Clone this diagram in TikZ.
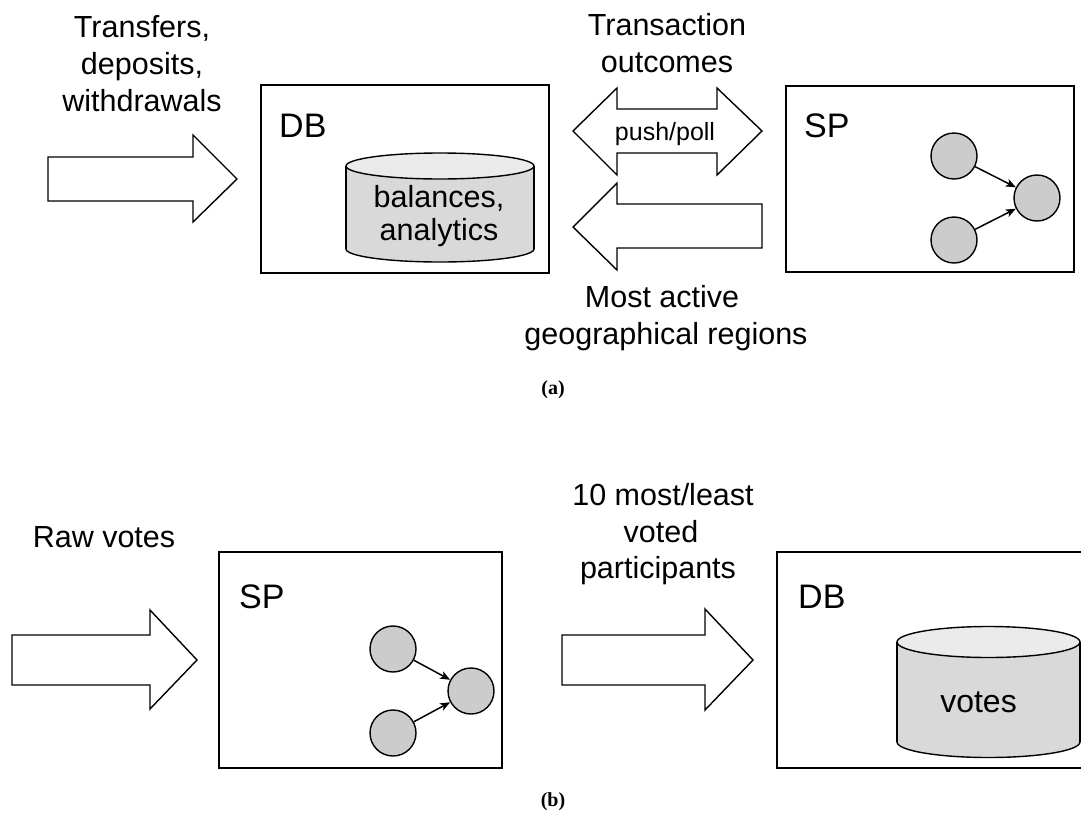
\documentclass[tikz,border=0pt]{standalone}
\usepackage{fontspec}
\setmainfont{Liberation Sans}
\newfontfamily\capfont{Liberation Serif}
\usetikzlibrary{arrows.meta}
\definecolor{procgray}{HTML}{CCCCCC}
\definecolor{drumbody}{HTML}{D9D9D9}
\definecolor{drumtop}{HTML}{EBEBEB}
% storage drum: centre x, top-ellipse y, bottom-ellipse y, x radius, y radius
\newcommand\drumshape[5]{%
  \draw[line width=1.4pt, fill=drumbody] (#1,#3) ellipse [x radius=#4, y radius=#5];
  \fill[drumbody] (#1-#4,#2) rectangle (#1+#4,#3);
  \draw[line width=1.4pt] (#1-#4,#2) -- (#1-#4,#3) (#1+#4,#2) -- (#1+#4,#3);
  \draw[line width=1.4pt, fill=drumtop] (#1,#2) ellipse [x radius=#4, y radius=#5];
}
\begin{document}
\begin{tikzpicture}[x=1pt, y=-1pt,
  box/.style={draw, line width=1.6pt, inner sep=0pt},
  blockarrow/.style={draw, fill=white, line width=1.4pt, line join=miter},
  txt/.style={font=\fontsize{30.5}{36}\selectfont, inner sep=0pt, anchor=base},
  lbl/.style={font=\fontsize{34}{40}\selectfont, inner sep=0pt, anchor=base west},
  smalltxt/.style={font=\fontsize{25}{30}\selectfont, inner sep=0pt, anchor=base},
  captxt/.style={font=\capfont\bfseries\fontsize{20}{24}\selectfont, inner sep=0pt, anchor=base},
  proc/.style={circle, draw, fill=procgray, line width=1.4pt, minimum size=46pt, inner sep=0pt},
  flow/.style={-{Stealth[length=10pt,width=8pt,inset=2.5pt]}, line width=1.5pt}]
\useasboundingbox (0,0) rectangle (1081,833);

% ---------------- (a) ----------------
% incoming operations
\draw[blockarrow] (48,157) -- (193,157) -- (193,135) -- (237,179) -- (193,222)
  -- (193,201) -- (48,201) -- cycle;
\node[txt] (inA1) at (142,37) {Transfers,};
\node[txt] (inA2) at (142,74) {deposits,};
\node[txt] (inA3) at (142,111) {withdrawals};

% database
\node[box, minimum width=288pt, minimum height=188pt] (dbA) at (405,179) {};
\node[lbl] (dbAl) at (279,137) {DB};
\drumshape{440}{166}{249}{94}{13}
\node[txt] (drA1) at (439,207) {balances,};
\node[txt] (drA2) at (439,240) {analytics};

% transaction outcomes (both directions)
\draw[blockarrow] (573,131) -- (617,88) -- (617,109) -- (717,109) -- (717,88)
  -- (762,131) -- (717,175) -- (717,153) -- (617,153) -- (617,175) -- cycle;
\node[smalltxt] (pp) at (665,140) {push/poll};
\node[txt] (toA1) at (667,35) {Transaction};
\node[txt] (toA2) at (667,72) {outcomes};

% regions back to the database
\draw[blockarrow] (573,227) -- (617,183) -- (617,204) -- (762,204) -- (762,248)
  -- (617,248) -- (617,270) -- cycle;
\node[txt] (rgA1) at (662,307) {Most active};
\node[txt] (rgA2) at (666,344) {geographical regions};

% stream processor
\node[box, minimum width=288pt, minimum height=186pt] (spA) at (930,179) {};
\node[lbl] (spAl) at (804,137) {SP};
\node[proc] (pA1) at (954,156) {};
\node[proc] (pA2) at (1037,198) {};
\node[proc] (pA3) at (954,240) {};
\draw[flow] (pA1) -- (pA2);
\draw[flow] (pA3) -- (pA2);

\node[captxt] (capA) at (553,394) {(a)};

% ---------------- (b) ----------------
\draw[blockarrow] (12,635) -- (150,635) -- (150,610) -- (197,660) -- (150,709)
  -- (150,685) -- (12,685) -- cycle;
\node[txt] (rv) at (104,547) {Raw votes};

% stream processor
\node[box, minimum width=283pt, minimum height=216pt] (spB) at (360.5,660) {};
\node[lbl] (spBl) at (239,608) {SP};
\node[proc] (pB1) at (393,649) {};
\node[proc] (pB2) at (471,691) {};
\node[proc] (pB3) at (393,733) {};
\draw[flow] (pB1) -- (pB2);
\draw[flow] (pB3) -- (pB2);

% top participants to the database
\draw[blockarrow] (562,635) -- (705,635) -- (705,609) -- (753,660) -- (705,710)
  -- (705,685) -- (562,685) -- cycle;
\node[txt] (tpB1) at (663,505) {10 most/least};
\node[txt] (tpB2) at (661,542) {voted};
\node[txt] (tpB3) at (658,578) {participants};

% database
\node[box, minimum width=318pt, minimum height=216pt] (dbB) at (936,660) {};
\node[lbl] (dbBl) at (798,608) {DB};
\drumshape{988.5}{642}{742}{91.5}{15.5}
\node[txt, font=\fontsize{32}{38}\selectfont] (drB) at (978.5,712) {votes};

\node[captxt] (capB) at (553,806) {(b)};
\end{tikzpicture}
\end{document}
